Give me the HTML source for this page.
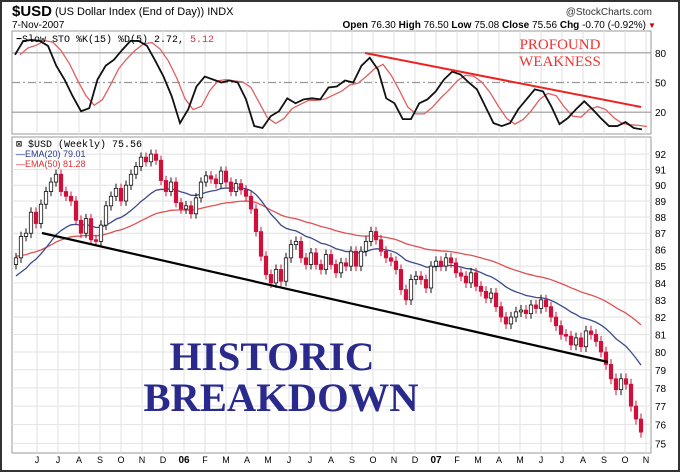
<!DOCTYPE html>
<html><head><meta charset="utf-8"><style>
html,body{margin:0;padding:0;background:#fff}
svg{display:block}
</style></head><body>
<svg id="c" width="680" height="472" viewBox="0 0 680 472" xmlns="http://www.w3.org/2000/svg" font-family="Liberation Sans, sans-serif">
<rect x="1" y="1" width="678" height="470" fill="#fff" stroke="#333" stroke-width="2"/>
<g>
<text x="12" y="16" font-size="15" font-weight="bold">$USD</text>
<text x="55" y="15" font-size="11">(US Dollar Index (End of Day))  INDX</text>
<text x="652" y="15" font-size="10" text-anchor="end" fill="#333">@StockCharts.com</text>
<text x="12" y="28" font-size="10">7-Nov-2007</text>
<text x="646" y="28" font-size="10" text-anchor="end"><tspan font-weight="bold">Open</tspan> 76.30  <tspan font-weight="bold">High</tspan> 76.50  <tspan font-weight="bold">Low</tspan> 75.08  <tspan font-weight="bold">Close</tspan> 75.56  <tspan font-weight="bold">Chg</tspan> -0.70 (-0.92%)</text>
<text x="648" y="28" font-size="8" fill="#c00">▼</text>
</g>
<g id="stoch"></g>
<g id="main"></g>
</svg>
<script>
const months=["J","J","A","S","O","N","D","06","F","M","A","M","J","J","A","S","O","N","D","07","F","M","A","M","J","J","A","S","O","N"];
const closes=[85.5,86.8,87.0,88.3,87.6,88.8,89.6,90.2,90.7,89.6,89.3,89.0,87.8,87.0,87.9,86.6,86.5,87.5,88.7,89.3,89.8,89.0,90.0,90.7,91.2,91.8,91.5,92.0,91.6,90.3,89.6,90.2,88.9,88.5,88.7,88.2,89.2,90.2,90.6,90.4,90.1,90.9,90.2,89.6,90.1,89.7,89.3,88.5,87.1,85.6,84.5,84.0,84.8,84.1,85.5,86.3,86.5,85.5,85.1,85.8,85.1,84.8,85.7,85.1,84.6,85.2,85.0,85.9,85.0,85.9,86.5,87.1,86.6,85.9,85.5,85.3,84.8,83.6,83.0,84.2,84.4,84.2,83.7,85.0,85.3,85.0,85.5,85.2,84.6,84.4,84.0,84.6,83.8,83.5,83.1,83.4,82.6,82.0,81.6,82.0,82.3,82.4,82.2,82.7,82.5,83.0,82.6,82.0,81.5,81.0,80.9,80.4,80.8,80.3,81.2,81.0,80.6,80.0,79.3,78.5,77.9,78.5,78.2,77.0,76.3,75.6];
const stochK=[78,92,93,92,87,67,53,36,21,24,53,67,73,83,92,92,87,72,56,36,9,23,46,56,53,50,52,50,33,6,4,16,21,34,29,33,34,33,45,46,52,50,67,75,63,34,29,13,13,29,33,41,53,61,58,50,43,26,9,6,9,23,33,43,41,26,8,14,23,31,23,14,6,6,10,4,2.7];
const priceTicks=[75,76,77,78,79,80,81,82,83,84,85,86,87,88,89,90,91,92];
const stochTicks=[20,50,80];
const ema20Seed=84.3, ema50Seed=85.6;
const NS="http://www.w3.org/2000/svg";
const L=12,R=651;
function el(tag,attrs,parent){const e=document.createElementNS(NS,tag);for(const k in attrs)e.setAttribute(k,attrs[k]);parent.appendChild(e);return e;}
const xWeek=i=>16+i*(625/(closes.length-1));
const xMonth=i=>37+i*(609/(months.length-1));
const yPrice=p=>352-1416*Math.log(p/80);
const yStoch=v=>132-v*0.99;
const xStoch=i=>15+i*(627/(stochK.length-1));
const st=document.getElementById('stoch'), mn=document.getElementById('main');
let r=el('rect',{x:L,y:31,width:R-L,height:103,fill:'#fff',stroke:'#999'},st);

months.forEach((m,i)=>{let g=el('line',{x1:xMonth(i),x2:xMonth(i),y1:31,y2:134,stroke:'#e2e2e2'},st);
});
stochTicks.forEach(v=>{let g=el('line',{x1:L,x2:R,y1:yStoch(v),y2:yStoch(v),stroke:'#999','stroke-width':1.2,'stroke-dasharray':v===50?'8,3,2,3':''},st);

let t=el('text',{x:655,y:yStoch(v)+4,'font-size':10},st);t.textContent=v;
});
const stochD=stochK.map((v,i)=>{const s=stochK.slice(Math.max(0,i-2),i+1);return s.reduce((a,b)=>a+b,0)/s.length;});
let pd=el('polyline',{points:stochD.map((v,i)=>xStoch(i+0.6)+','+yStoch(v)).join(' '),fill:'none',stroke:'#e06060','stroke-width':1.3},st);

let pk=el('polyline',{points:stochK.map((v,i)=>xStoch(i)+','+yStoch(v)).join(' '),fill:'none',stroke:'#111','stroke-width':1.8},st);

let rl=el('line',{x1:365,y1:53,x2:641,y2:107,stroke:'#e22','stroke-width':2},st);

let lg=el('text',{x:16,y:42,'font-size':10,'font-family':'Liberation Mono, monospace'},st);
lg.innerHTML='<tspan font-weight="bold">−</tspan>Slow STO %K(15) %D(5) 2.72, <tspan fill="#d33">5.12</tspan>';

let pw=el('text',{x:560,y:49,'font-size':15,fill:'#e33','text-anchor':'middle','font-family':'Liberation Serif, serif'},st);pw.textContent='PROFOUND';

let ww=el('text',{x:560,y:66,'font-size':15,fill:'#e33','text-anchor':'middle','font-family':'Liberation Serif, serif'},st);ww.textContent='WEAKNESS';

let mr=el('rect',{x:L,y:137,width:R-L,height:316,fill:'#fff',stroke:'#999'},mn);

months.forEach((m,i)=>{let g=el('line',{x1:xMonth(i),x2:xMonth(i),y1:137,y2:453,stroke:'#e2e2e2'},mn);

let t=el('text',{x:xMonth(i),y:463,'font-size':/\d/.test(m)?10:9,'font-weight':/\d/.test(m)?'bold':'normal','text-anchor':'middle'},mn);t.textContent=m;
});
priceTicks.forEach(p=>{let g=el('line',{x1:L,x2:R,y1:yPrice(p),y2:yPrice(p),stroke:'#e2e2e2'},mn);

let t=el('text',{x:655,y:yPrice(p)+4,'font-size':10},mn);t.textContent=p;
});
function ema(seed,n){const a=2/(n+1);let e=seed;return closes.map(c=>(e=e+a*(c-e)));}
const e50=ema(ema50Seed,50),e20=ema(ema20Seed,20);
let l50=el('polyline',{points:e50.map((v,i)=>xWeek(i)+','+yPrice(v)).join(' '),fill:'none',stroke:'#e05050','stroke-width':1.3},mn);

let l20=el('polyline',{points:e20.map((v,i)=>xWeek(i)+','+yPrice(v)).join(' '),fill:'none',stroke:'#3a4a8a','stroke-width':1.3},mn);

closes.forEach((c,i)=>{const o=i?closes[i-1]:c-0.4;const hi=Math.max(o,c)+0.3,lo=Math.min(o,c)-0.3;const x=xWeek(i);const down=c<o;
let w=el('line',{x1:x,x2:x,y1:yPrice(hi),y2:yPrice(lo),stroke:down?'#d0103a':'#111'},mn);

const yt=yPrice(Math.max(o,c)),yb=yPrice(Math.min(o,c));
let b=el('rect',{x:x-1.7,y:yt,width:3.4,height:Math.max(1,yb-yt),fill:down?'#d0103a':'#fff',stroke:down?'#d0103a':'#111','stroke-width':0.8},mn);
});
let tl=el('line',{x1:42,y1:233,x2:608,y2:362,stroke:'#000','stroke-width':2.2},mn);

let g1=el('text',{x:16,y:147,'font-size':10,'font-family':'Liberation Mono, monospace'},mn);g1.textContent='⊠ $USD (Weekly) 75.56';

let g2=el('text',{x:16,y:157,'font-size':9,fill:'#2a3a8a'},mn);g2.textContent='—EMA(20) 79.01';

let g3=el('text',{x:16,y:167,'font-size':9,fill:'#e03030'},mn);g3.textContent='—EMA(50) 81.28';

let h1=el('text',{x:272,y:370,'font-size':40,'font-weight':'bold',fill:'#2a2a8c','text-anchor':'middle','font-family':'Liberation Serif, serif',textLength:205,lengthAdjust:'spacingAndGlyphs'},mn);h1.textContent='HISTORIC';

let h2=el('text',{x:281,y:411,'font-size':40,'font-weight':'bold',fill:'#2a2a8c','text-anchor':'middle','font-family':'Liberation Serif, serif',textLength:275,lengthAdjust:'spacingAndGlyphs'},mn);h2.textContent='BREAKDOWN';

</script>
</body></html>
